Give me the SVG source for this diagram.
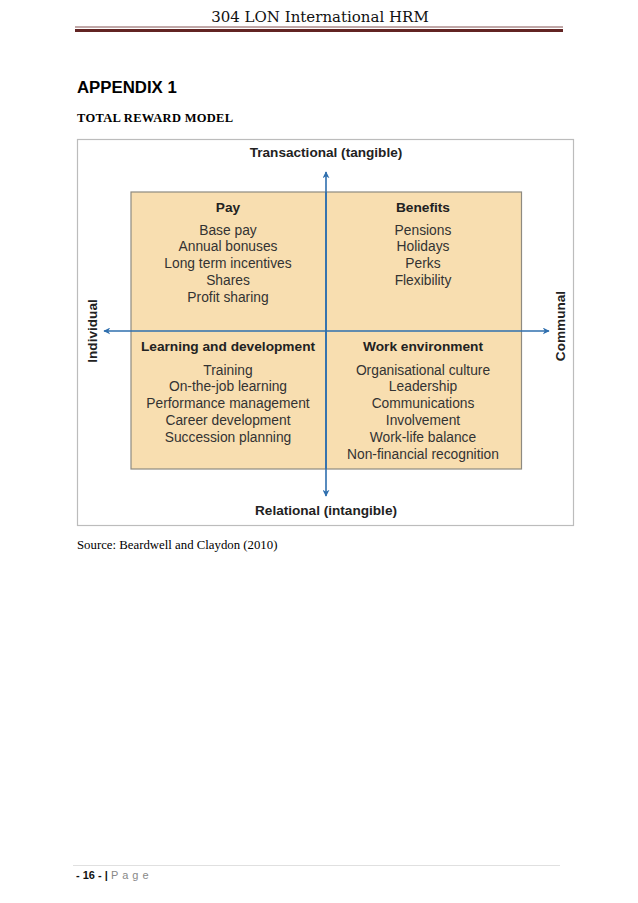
<svg xmlns="http://www.w3.org/2000/svg" width="638" height="903" viewBox="0 0 638 903">
<style>
.hdr{font-family:"DejaVu Serif","Liberation Serif",serif;font-size:15px;fill:#111}
.app{font-family:"Liberation Sans",Arial,sans-serif;font-weight:bold;font-size:16.8px;fill:#000}
.sub{font-family:"Liberation Serif","Times New Roman",serif;font-weight:bold;font-size:12.5px;letter-spacing:0.3px;fill:#000}
.src{font-family:"Liberation Serif","Times New Roman",serif;font-size:12.8px;fill:#000}
.ax{font-family:"Liberation Sans",Arial,sans-serif;font-weight:bold;font-size:13.6px;fill:#222;text-anchor:middle}
.ttl{font-family:"Liberation Sans",Arial,sans-serif;font-weight:bold;font-size:13.7px;fill:#222;text-anchor:middle}
.itm{font-family:"Liberation Sans",Arial,sans-serif;font-size:13.8px;fill:#333;text-anchor:middle}
.axis{stroke:#2f6fae;stroke-width:1.6;fill:none}
.foot{font-family:"Liberation Sans",Arial,sans-serif;font-size:11px}
</style>
<defs>
<marker id="arr" viewBox="0 0 10 10" refX="9" refY="5" markerWidth="7" markerHeight="7" markerUnits="userSpaceOnUse" orient="auto">
<path d="M0,0 L10,5 L0,10 L3,5 Z" fill="#2f6fae"/>
</marker>
</defs>
<rect width="638" height="903" fill="#fff"/>
<g id="header">
<text class="hdr" x="320" y="22" text-anchor="middle">304 LON International HRM</text>
<line x1="75" y1="27" x2="563" y2="27" stroke="#622423" stroke-width="0.8"/>
<line x1="75" y1="30.5" x2="563" y2="30.5" stroke="#622423" stroke-width="3"/>
</g>
<text class="app" x="77" y="93">APPENDIX 1</text>
<text class="sub" x="77" y="122">TOTAL REWARD MODEL</text>
<g id="frame">
<rect x="77.5" y="139.5" width="496" height="386" fill="#fff" stroke="#bcbcbc" stroke-width="1.2"/>
</g>
<g id="box">
<rect x="131" y="192" width="390.5" height="277" fill="#f8deb0" stroke="#8e8a80" stroke-width="1.2"/>
</g>
<g id="connectors">
<line class="axis" x1="326" y1="469" x2="326" y2="172" marker-end="url(#arr)"/>
<line class="axis" x1="326" y1="192" x2="326" y2="496" marker-end="url(#arr)"/>
<line class="axis" x1="326" y1="331" x2="104" y2="331" marker-end="url(#arr)"/>
<line class="axis" x1="326" y1="331" x2="549" y2="331" marker-end="url(#arr)"/>
</g>
<g id="axis-labels">
<text class="ax" x="326" y="157">Transactional (tangible)</text>
<text class="ax" x="326" y="515">Relational (intangible)</text>
<text class="ax" transform="translate(97,331) rotate(-90)">Individual</text>
<text class="ax" transform="translate(565,326) rotate(-90)">Communal</text>
</g>
<g id="pay">
<text class="ttl" x="228" y="212">Pay</text>
<text class="itm" x="228" y="234.5">Base pay</text>
<text class="itm" x="228" y="251.3">Annual bonuses</text>
<text class="itm" x="228" y="268.1">Long term incentives</text>
<text class="itm" x="228" y="284.9">Shares</text>
<text class="itm" x="228" y="301.7">Profit sharing</text>
</g>
<g id="benefits">
<text class="ttl" x="423" y="212">Benefits</text>
<text class="itm" x="423" y="234.5">Pensions</text>
<text class="itm" x="423" y="251.3">Holidays</text>
<text class="itm" x="423" y="268.1">Perks</text>
<text class="itm" x="423" y="284.9">Flexibility</text>
</g>
<g id="learning">
<text class="ttl" x="228" y="351">Learning and development</text>
<text class="itm" x="228" y="374.5">Training</text>
<text class="itm" x="228" y="391.3">On-the-job learning</text>
<text class="itm" x="228" y="408.1">Performance management</text>
<text class="itm" x="228" y="424.9">Career development</text>
<text class="itm" x="228" y="441.7">Succession planning</text>
</g>
<g id="work">
<text class="ttl" x="423" y="351">Work environment</text>
<text class="itm" x="423" y="374.5">Organisational culture</text>
<text class="itm" x="423" y="391.3">Leadership</text>
<text class="itm" x="423" y="408.1">Communications</text>
<text class="itm" x="423" y="424.9">Involvement</text>
<text class="itm" x="423" y="441.7">Work-life balance</text>
<text class="itm" x="423" y="458.5">Non-financial recognition</text>
</g>
<text class="src" x="77" y="549">Source: Beardwell and Claydon (2010)</text>
<g id="footer">
<line x1="73" y1="865.5" x2="560" y2="865.5" stroke="#d8d8d8" stroke-width="0.8"/>
<text class="foot" x="76" y="879"><tspan font-weight="bold" fill="#111">- 16 - | </tspan><tspan fill="#888" letter-spacing="4">Page</tspan></text>
</g>
</svg>
